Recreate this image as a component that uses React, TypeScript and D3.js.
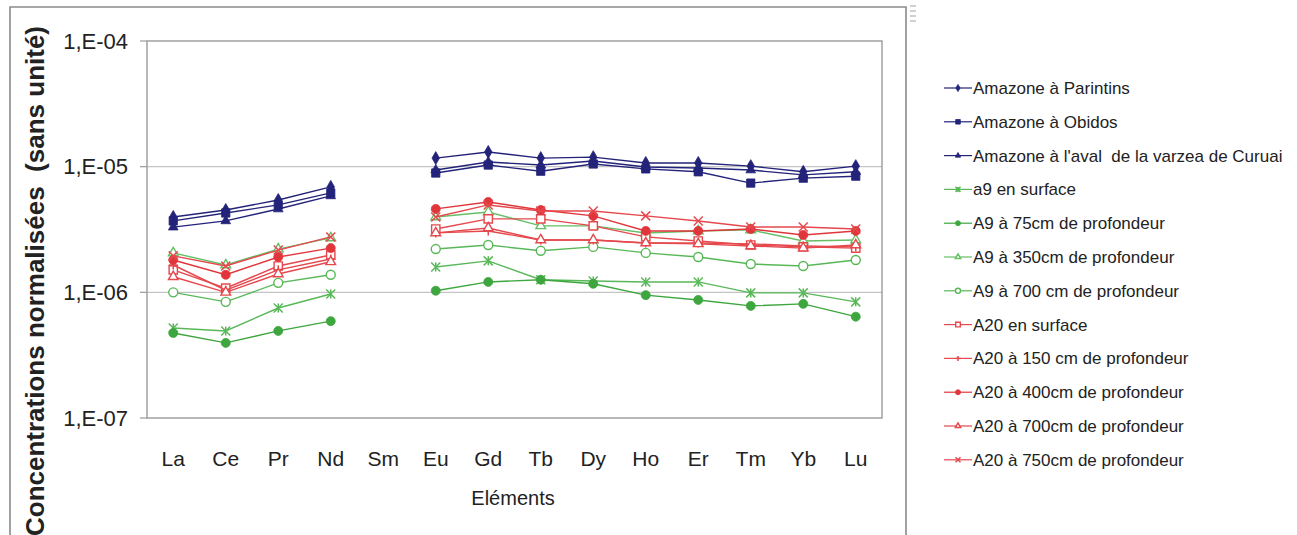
import React from "react";
import * as d3 from "d3";

const categories = ["La","Ce","Pr","Nd","Sm","Eu","Gd","Tb","Dy","Ho","Er","Tm","Yb","Lu"];
const yTickValues = [1e-4, 1e-5, 1e-6, 1e-7];
const yTickLabels = ["1,E-04", "1,E-05", "1,E-06", "1,E-07"];

const parintins = [3.98e-6,4.52e-6,5.43e-6,6.9e-6,null,1.17e-5,1.31e-5,1.17e-5,1.19e-5,1.07e-5,1.07e-5,1.01e-5,9.1e-6,1.01e-5];
const obidos = [3.7e-6,4.28e-6,4.96e-6,6.18e-6,null,8.9e-6,1.03e-5,9.2e-6,1.05e-5,9.6e-6,9.1e-6,7.4e-6,8.1e-6,8.4e-6];
const curuai = [3.3e-6,3.7e-6,4.6e-6,5.85e-6,null,9.4e-6,1.09e-5,1.03e-5,1.11e-5,9.95e-6,9.77e-6,9.4e-6,8.6e-6,9.1e-6];
const a9Surface = [5.2e-7,4.93e-7,7.5e-7,9.7e-7,null,1.59e-6,1.78e-6,1.26e-6,1.23e-6,1.21e-6,1.21e-6,9.9e-7,9.9e-7,8.4e-7];
const a9_75 = [4.75e-7,3.96e-7,4.93e-7,5.9e-7,null,1.03e-6,1.21e-6,1.26e-6,1.17e-6,9.5e-7,8.7e-7,7.8e-7,8.1e-7,6.4e-7];
const a9_350 = [2.06e-6,1.65e-6,2.21e-6,2.71e-6,null,3.98e-6,4.36e-6,3.38e-6,3.38e-6,2.97e-6,3.08e-6,3.14e-6,2.56e-6,2.61e-6];
const a9_700 = [1.0e-6,8.4e-7,1.19e-6,1.38e-6,null,2.21e-6,2.38e-6,2.14e-6,2.3e-6,2.06e-6,1.91e-6,1.68e-6,1.62e-6,1.81e-6];
const a20Surface = [1.51e-6,1.08e-6,1.62e-6,1.98e-6,null,3.19e-6,3.84e-6,3.84e-6,3.38e-6,2.76e-6,2.56e-6,2.38e-6,2.3e-6,2.25e-6];
const a20_150 = [1.65e-6,1.04e-6,1.51e-6,1.84e-6,null,2.97e-6,3.08e-6,2.61e-6,2.61e-6,2.47e-6,2.47e-6,2.43e-6,2.34e-6,2.3e-6];
const a20_400 = [1.81e-6,1.38e-6,1.91e-6,2.25e-6,null,4.61e-6,5.24e-6,4.52e-6,4.06e-6,3.08e-6,3.08e-6,3.19e-6,2.86e-6,3.08e-6];
const a20_700 = [1.33e-6,1.0e-6,1.40e-6,1.75e-6,null,2.97e-6,3.25e-6,2.61e-6,2.61e-6,2.47e-6,2.43e-6,2.34e-6,2.25e-6,2.38e-6];
const a20_750 = [1.95e-6,1.62e-6,2.17e-6,2.76e-6,null,3.98e-6,4.96e-6,4.44e-6,4.44e-6,4.06e-6,3.70e-6,3.31e-6,3.31e-6,3.19e-6];

const seriesNames = [
  "Amazone à Parintins",
  "Amazone à Obidos",
  "Amazone à l'aval\u00a0 de la varzea de Curuai",
  "a9 en surface",
  "A9 à 75cm de profondeur",
  "A9 à 350cm de profondeur",
  "A9 à 700 cm de profondeur",
  "A20 en surface",
  "A20 à 150 cm de profondeur",
  "A20 à 400cm de profondeur",
  "A20 à 700cm de profondeur",
  "A20 à 750cm de profondeur",
];
const seriesValues = [parintins, obidos, curuai, a9Surface, a9_75, a9_350, a9_700, a20Surface, a20_150, a20_400, a20_700, a20_750];
const seriesColors = ["#23237a","#23237a","#23237a","#58b858","#3ea63e","#66bf66","#58b858","#e5484d","#e5484d","#e0353a","#e5484d","#e5484d"];
const seriesMarkers = ["diamond","square","triangle","star","circle","triangleOpen","circleOpen","squareOpen","plus","circle","triangleOpen","x"];

const W = 1297, H = 535;
const plot = { left: 147, right: 882, top: 41, bottom: 418 };

function Marker({ type, color, x, y, s }: { type: string; color: string; x: number; y: number; s: number }) {
  const r = s / 2;
  if (type === "x" || type === "star") {
    return (
      <g stroke={color} strokeWidth={1.5} fill="none">
        <line x1={x - r} y1={y - r} x2={x + r} y2={y + r} />
        <line x1={x - r} y1={y + r} x2={x + r} y2={y - r} />
        {type === "star" && <line x1={x} y1={y - r} x2={x} y2={y + r} />}
      </g>
    );
  }
  if (type === "plus") {
    return (
      <g stroke={color} strokeWidth={1.5}>
        <line x1={x - r} y1={y} x2={x + r} y2={y} />
        <line x1={x} y1={y - r} x2={x} y2={y + r} />
      </g>
    );
  }
  const open = type.endsWith("Open");
  const base = type.replace("Open", "");
  const symType =
    base === "diamond" ? d3.symbolDiamond :
    base === "square" ? d3.symbolSquare :
    base === "triangle" ? d3.symbolTriangle : d3.symbolCircle;
  const area = base === "diamond" ? s * s * 0.6 : base === "triangle" ? s * s * 0.5 : base === "circle" ? Math.PI * r * r : s * s * 0.85;
  const p = d3.symbol().type(symType).size(area)() as string;
  return (
    <path d={p} transform={`translate(${x},${y})`} fill={open ? "#ffffff" : color} stroke={color} strokeWidth={open ? 1.4 : 0.8} />
  );
}

export default function App() {
  const x = d3.scaleBand().domain(categories).range([plot.left, plot.right]).paddingInner(0).paddingOuter(0);
  const y = d3.scaleLog().domain([1e-7, 1e-4]).range([plot.bottom, plot.top]);
  const cx = (c: string) => (x(c) as number) + x.bandwidth() / 2;

  const line = d3
    .line<number | null>()
    .defined((d) => d !== null)
    .x((_, i) => cx(categories[i]))
    .y((d) => y(d as number));

  const legendX = 944;
  const legendY0 = 88;
  const legendStep = 33.8;

  return (
    <div style={{ position: "absolute", left: 0, top: 0, width: W, height: H, background: "#fff" }}>
      <svg width={W} height={H} style={{ display: "block", fontFamily: "'Liberation Sans', Arial, sans-serif" }}>
        <rect x={0} y={0} width={W} height={H} fill="#ffffff" />
        <path d={`M10,${H + 5} L10,7 L906,7 L906,${H + 5}`} fill="none" stroke="#8a8a8a" strokeWidth={1.6} />
        {[6, 11, 16, 21].map((yy) => (
          <line key={yy} x1={910} x2={916} y1={yy} y2={yy} stroke="#b0b0b0" strokeWidth={1.2} />
        ))}

        {yTickValues.slice(1, 3).map((v) => (
          <line key={v} x1={plot.left} x2={plot.right} y1={y(v)} y2={y(v)} stroke="#c4c4c4" strokeWidth={1.2} />
        ))}
        <rect x={plot.left} y={plot.top} width={plot.right - plot.left} height={plot.bottom - plot.top} fill="none" stroke="#9a9a9a" strokeWidth={1.4} />

        {yTickValues.map((v, i) => (
          <g key={v}>
            <line x1={plot.left - 7} x2={plot.left} y1={y(v)} y2={y(v)} stroke="#9a9a9a" strokeWidth={1.2} />
            <text x={128} y={y(v)} dy="0.35em" textAnchor="end" fontSize={22} fill="#222">
              {yTickLabels[i]}
            </text>
          </g>
        ))}

        {categories.map((c) => (
          <text key={c} x={cx(c)} y={466} textAnchor="middle" fontSize={21} fill="#222">
            {c}
          </text>
        ))}
        <text x={513} y={505} textAnchor="middle" fontSize={20} fill="#222">
          Eléments
        </text>
        <text
          transform={`translate(44,281) rotate(-90)`}
          textAnchor="middle"
          fontSize={26}
          fontWeight="bold"
          fill="#222"
        >
          {"Concentrations normalisées\u00a0 (sans unité)"}
        </text>

        {seriesValues.map((vals, si) => (
          <g key={si}>
            <path d={line(vals) as string} fill="none" stroke={seriesColors[si]} strokeWidth={1.4} />
            {vals.map((v, i) =>
              v === null ? null : (
                <Marker key={i} type={seriesMarkers[si]} color={seriesColors[si]} x={cx(categories[i])} y={y(v)} s={9} />
              )
            )}
          </g>
        ))}

        {seriesNames.map((n, i) => {
          const ly = legendY0 + i * legendStep;
          return (
            <g key={n}>
              <line x1={legendX} x2={legendX + 28} y1={ly} y2={ly} stroke={seriesColors[i]} strokeWidth={1.2} />
              <Marker type={seriesMarkers[i]} color={seriesColors[i]} x={legendX + 14} y={ly} s={5} />
              <text x={legendX + 29} y={ly} dy="0.35em" fontSize={17} fill="#222">
                {n}
              </text>
            </g>
          );
        })}
      </svg>
    </div>
  );
}
